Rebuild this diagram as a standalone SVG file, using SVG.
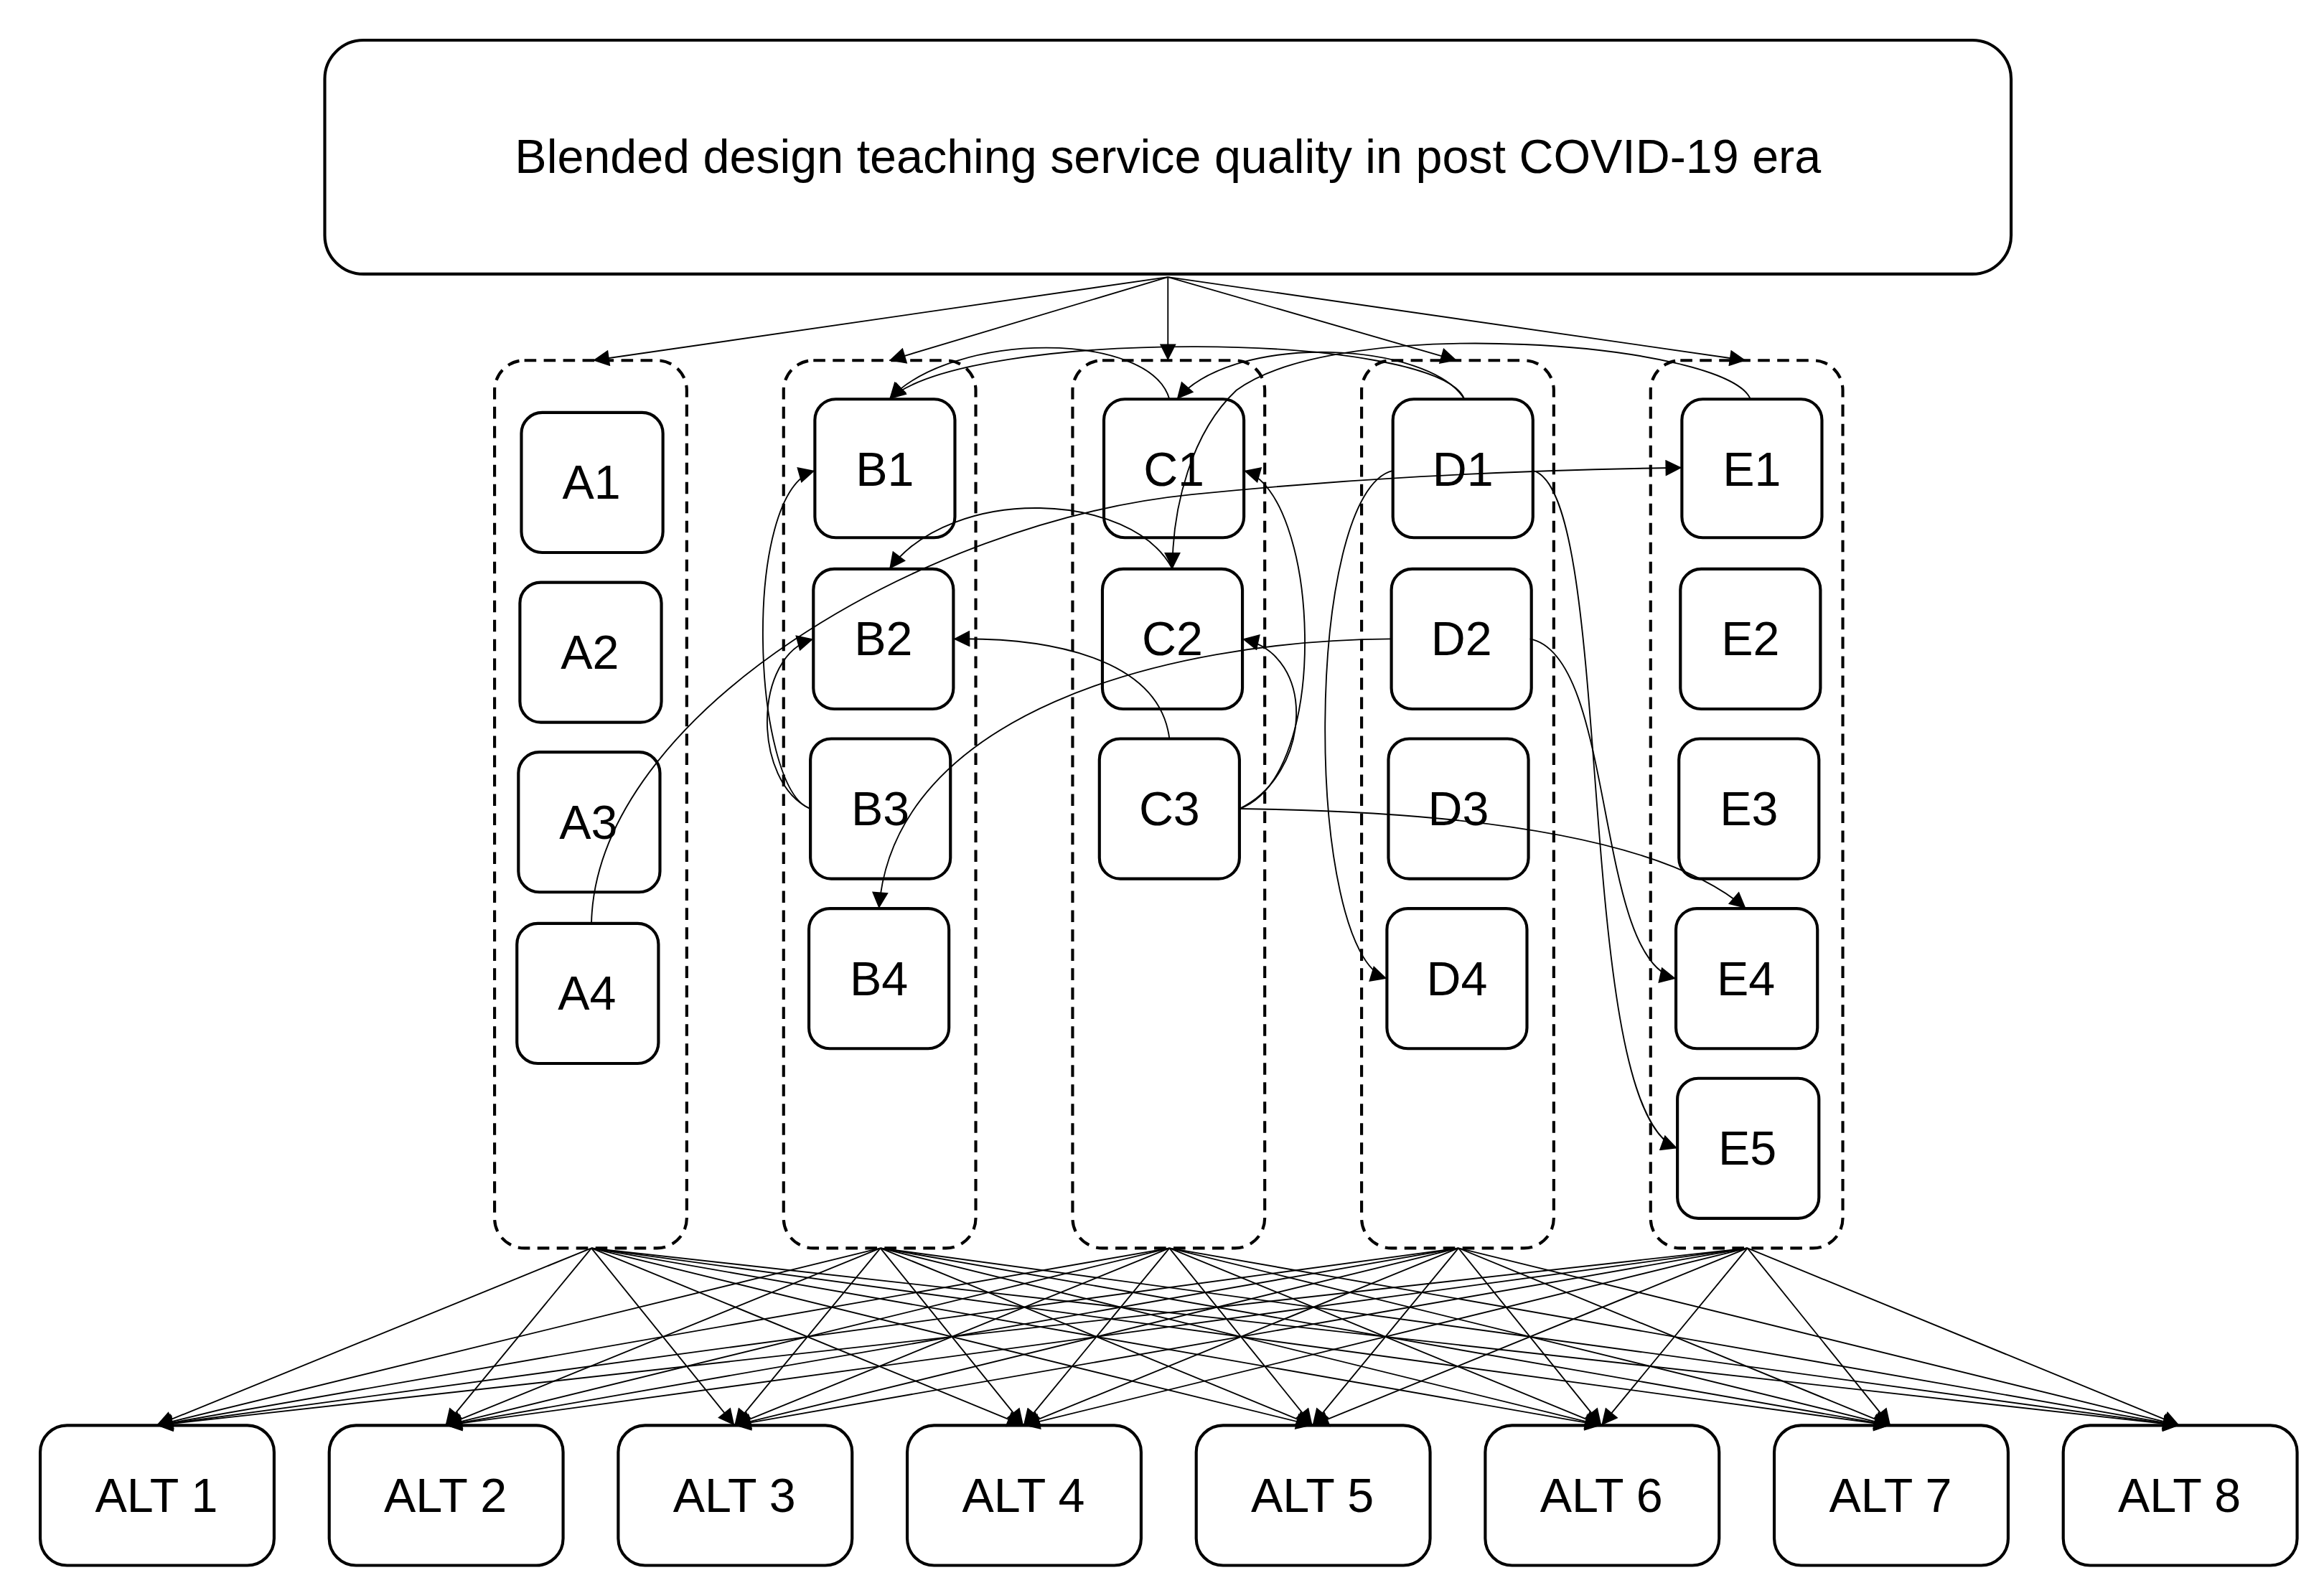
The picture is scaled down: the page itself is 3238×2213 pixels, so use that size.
<svg xmlns="http://www.w3.org/2000/svg" width="3238" height="2213" viewBox="0 0 3238 2213">
<style>
.n{fill:#fff;stroke:#000;stroke-width:2}
.g{fill:none;stroke:#000;stroke-width:2;stroke-dasharray:8 5}
.t{font-family:"Liberation Sans",Arial,sans-serif;font-size:32px;fill:#000;text-anchor:middle;dominant-baseline:central}
.c{fill:none;stroke:#000;stroke-width:0.9}
</style>
<defs><marker id="a" viewBox="0 0 10 10" refX="10" refY="5" markerWidth="13" markerHeight="11" markerUnits="userSpaceOnUse" orient="auto"><path d="M0,0L10,5L0,10z" fill="#000"/></marker></defs>
<rect width="3238" height="2213" fill="#fff"/>
<g transform="scale(2.0756)">
<g id="root"><rect class="n" x="218" y="27" width="1132" height="157" rx="26"/><text class="t" x="784" y="105">Blended design teaching service quality in post COVID-19 era</text></g>
<g id="groupA"><rect class="g" x="332" y="242" width="129" height="596" rx="20"/></g>
<g id="groupB"><rect class="g" x="526" y="242" width="129" height="596" rx="20"/></g>
<g id="groupC"><rect class="g" x="720" y="242" width="129" height="596" rx="20"/></g>
<g id="groupD"><rect class="g" x="914" y="242" width="129" height="596" rx="20"/></g>
<g id="groupE"><rect class="g" x="1108" y="242" width="129" height="596" rx="20"/></g>
<g id="A1"><rect class="n" x="350" y="277" width="95" height="94" rx="14"/><text class="t" x="397" y="324">A1</text></g>
<g id="A2"><rect class="n" x="349" y="391" width="95" height="94" rx="14"/><text class="t" x="396" y="438">A2</text></g>
<g id="A3"><rect class="n" x="348" y="505" width="95" height="94" rx="14"/><text class="t" x="395" y="552">A3</text></g>
<g id="A4"><rect class="n" x="347" y="620" width="95" height="94" rx="14"/><text class="t" x="394" y="667">A4</text></g>
<g id="B1"><rect class="n" x="547" y="268" width="94" height="93" rx="14"/><text class="t" x="594" y="315">B1</text></g>
<g id="B2"><rect class="n" x="546" y="382" width="94" height="94" rx="14"/><text class="t" x="593" y="429">B2</text></g>
<g id="B3"><rect class="n" x="544" y="496" width="94" height="94" rx="14"/><text class="t" x="591" y="543">B3</text></g>
<g id="B4"><rect class="n" x="543" y="610" width="94" height="94" rx="14"/><text class="t" x="590" y="657">B4</text></g>
<g id="C1"><rect class="n" x="741" y="268" width="94" height="93" rx="14"/><text class="t" x="788" y="315">C1</text></g>
<g id="C2"><rect class="n" x="740" y="382" width="94" height="94" rx="14"/><text class="t" x="787" y="429">C2</text></g>
<g id="C3"><rect class="n" x="738" y="496" width="94" height="94" rx="14"/><text class="t" x="785" y="543">C3</text></g>
<g id="D1"><rect class="n" x="935" y="268" width="94" height="93" rx="14"/><text class="t" x="982" y="315">D1</text></g>
<g id="D2"><rect class="n" x="934" y="382" width="94" height="94" rx="14"/><text class="t" x="981" y="429">D2</text></g>
<g id="D3"><rect class="n" x="932" y="496" width="94" height="94" rx="14"/><text class="t" x="979" y="543">D3</text></g>
<g id="D4"><rect class="n" x="931" y="610" width="94" height="94" rx="14"/><text class="t" x="978" y="657">D4</text></g>
<g id="E1"><rect class="n" x="1129" y="268" width="94" height="93" rx="14"/><text class="t" x="1176" y="315">E1</text></g>
<g id="E2"><rect class="n" x="1128" y="382" width="94" height="94" rx="14"/><text class="t" x="1175" y="429">E2</text></g>
<g id="E3"><rect class="n" x="1127" y="496" width="94" height="94" rx="14"/><text class="t" x="1174" y="543">E3</text></g>
<g id="E4"><rect class="n" x="1125" y="610" width="95" height="94" rx="14"/><text class="t" x="1172" y="657">E4</text></g>
<g id="E5"><rect class="n" x="1126" y="724" width="95" height="94" rx="14"/><text class="t" x="1173" y="771">E5</text></g>
<g id="ALT1"><rect class="n" x="27" y="957" width="157" height="94" rx="18"/><text class="t" x="105" y="1004">ALT 1</text></g>
<g id="ALT2"><rect class="n" x="221" y="957" width="157" height="94" rx="18"/><text class="t" x="299" y="1004">ALT 2</text></g>
<g id="ALT3"><rect class="n" x="415" y="957" width="157" height="94" rx="18"/><text class="t" x="493" y="1004">ALT 3</text></g>
<g id="ALT4"><rect class="n" x="609" y="957" width="157" height="94" rx="18"/><text class="t" x="687" y="1004">ALT 4</text></g>
<g id="ALT5"><rect class="n" x="803" y="957" width="157" height="94" rx="18"/><text class="t" x="881" y="1004">ALT 5</text></g>
<g id="ALT6"><rect class="n" x="997" y="957" width="157" height="94" rx="18"/><text class="t" x="1075" y="1004">ALT 6</text></g>
<g id="ALT7"><rect class="n" x="1191" y="957" width="157" height="94" rx="18"/><text class="t" x="1269" y="1004">ALT 7</text></g>
<g id="ALT8"><rect class="n" x="1385" y="957" width="157" height="94" rx="18"/><text class="t" x="1463" y="1004">ALT 8</text></g>
<g id="connectors" class="c" marker-end="url(#a)">
<path class="c" d="M784,186L398,242"/>
<path class="c" d="M784,186L597,242"/>
<path class="c" d="M784,186L784,242"/>
<path class="c" d="M784,186L978,242"/>
<path class="c" d="M784,186L1172,242"/>
<path class="c" d="M544,543C505,530 497,330 547,316"/>
<path class="c" d="M544,543C505,525 505,440 546,429"/>
<path class="c" d="M397,620C400,480 620,350 800,332C900,322 1000,316 1129,314"/>
<path class="c" d="M785,496C778,440 700,428 640,429"/>
<path class="c" d="M832,543C895,520 885,330 835,316"/>
<path class="c" d="M832,543C880,520 885,440 834,429"/>
<path class="c" d="M832,543C1000,545 1120,565 1172,610"/>
<path class="c" d="M934,429C780,430 600,480 590,610"/>
<path class="c" d="M1027,429C1085,440 1070,645 1125,657"/>
<path class="c" d="M1029,316C1085,330 1055,745 1126,771"/>
<path class="c" d="M935,316C875,330 875,640 931,657"/>
<path class="c" d="M785,268C772,222 640,222 597,268"/>
<path class="c" d="M983,268C965,222 650,220 597,268"/>
<path class="c" d="M983,268C960,230 830,222 790,268"/>
<path class="c" d="M1175,268C1160,230 900,210 830,262C800,290 787,340 787,382"/>
<path class="c" d="M787,382C760,330 640,325 597,382"/>
<path class="c" d="M397,838L105,957"/><path class="c" d="M397,838L299,957"/><path class="c" d="M397,838L493,957"/><path class="c" d="M397,838L687,957"/><path class="c" d="M397,838L881,957"/><path class="c" d="M397,838L1075,957"/><path class="c" d="M397,838L1269,957"/><path class="c" d="M397,838L1463,957"/>
<path class="c" d="M591,838L105,957"/><path class="c" d="M591,838L299,957"/><path class="c" d="M591,838L493,957"/><path class="c" d="M591,838L687,957"/><path class="c" d="M591,838L881,957"/><path class="c" d="M591,838L1075,957"/><path class="c" d="M591,838L1269,957"/><path class="c" d="M591,838L1463,957"/>
<path class="c" d="M785,838L105,957"/><path class="c" d="M785,838L299,957"/><path class="c" d="M785,838L493,957"/><path class="c" d="M785,838L687,957"/><path class="c" d="M785,838L881,957"/><path class="c" d="M785,838L1075,957"/><path class="c" d="M785,838L1269,957"/><path class="c" d="M785,838L1463,957"/>
<path class="c" d="M979,838L105,957"/><path class="c" d="M979,838L299,957"/><path class="c" d="M979,838L493,957"/><path class="c" d="M979,838L687,957"/><path class="c" d="M979,838L881,957"/><path class="c" d="M979,838L1075,957"/><path class="c" d="M979,838L1269,957"/><path class="c" d="M979,838L1463,957"/>
<path class="c" d="M1173,838L105,957"/><path class="c" d="M1173,838L299,957"/><path class="c" d="M1173,838L493,957"/><path class="c" d="M1173,838L687,957"/><path class="c" d="M1173,838L881,957"/><path class="c" d="M1173,838L1075,957"/><path class="c" d="M1173,838L1269,957"/><path class="c" d="M1173,838L1463,957"/>
</g>
</g>
</svg>
